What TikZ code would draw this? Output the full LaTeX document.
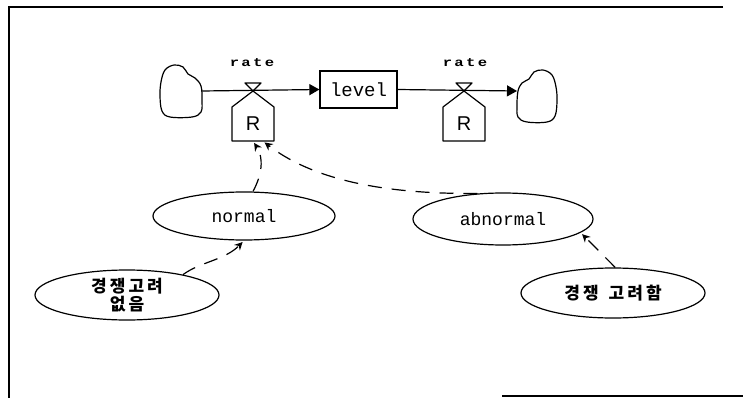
\documentclass[tikz,border=0pt]{standalone}
\usepackage{fontspec}
\usetikzlibrary{arrows.meta,shapes.geometric}
\newfontfamily\monofont{Liberation Mono}
\newfontfamily\ratefont{Liberation Mono}[LetterSpace=15]
\newfontfamily\krfont{Noto Sans CJK KR}[LetterSpace=18]
\newfontfamily\rfont{Liberation Sans}
\begin{document}
\begin{tikzpicture}[x=1pt,y=-1pt,
  outline/.style={line width=1.2pt, line join=round},
  flow/.style={line width=1.2pt, -{Triangle[length=10pt,width=11pt]}},
  dep/.style={line width=1.2pt, dash pattern=on 14pt off 10pt,
              -{Stealth[length=8pt,width=8pt]}, shorten >=2pt},
  oval/.style={ellipse, draw, line width=1.2pt, inner sep=0pt},
  levelbox/.style={rectangle, draw, line width=1.2pt, minimum width=77pt,
                   minimum height=37pt, font=\monofont\fontsize{19}{20}\selectfont},
  ratelabel/.style={inner sep=0pt, font=\ratefont\bfseries\fontsize{12}{12}\selectfont},
  rlabel/.style={rectangle, inner sep=0pt, minimum width=42pt, minimum height=34pt,
                 font=\rfont\fontsize{20}{20}\selectfont},
  mono/.style={font=\monofont\fontsize{18}{19}\selectfont},
  kr/.style={font=\krfont\bfseries\fontsize{17}{18}\selectfont, align=center}
]
\useasboundingbox (0,0) rectangle (743,398);

% outer frame
\draw[line width=1.5pt] (723,7) -- (9,7) -- (9,398);
\draw[line width=1.5pt] (502,396) -- (743,396);

% source and sink clouds
\draw[outline] plot[smooth cycle, tension=0.6] coordinates {
  (161,82) (165,70) (174,65) (183,67) (188,74) (195,78) (201,86) (202,100)
  (201,112) (192,117) (170,117) (162,111) (160,96)};
\draw[outline] plot[smooth cycle, tension=0.6] coordinates {
  (556,87) (552,75) (543,70) (534,72) (529,79) (522,83) (518,91) (517,105)
  (518,117) (527,122) (547,122) (555,116) (557,101)};
\coordinate (source) at (202,91);
\coordinate (sink) at (517,91);

% stock
\node[levelbox] (level) at (358.5,89.5) {level};

% inflow valve and its rate converter
\coordinate (valveL) at (253,91);
\draw[outline] (245,83) -- (261,83) -- (valveL) -- cycle;
\draw[outline] (valveL) -- (274,107) -- (274,141) -- (232,141) -- (232,107) -- cycle;
\node[rlabel] (Rl) at (253,124) {R};
\node[ratelabel] (rateL) at (252,63) {\scalebox{1.3}[1]{rate}};

% outflow valve and its rate converter
\coordinate (valveR) at (464,91);
\draw[outline] (456,83) -- (472,83) -- (valveR) -- cycle;
\draw[outline] (valveR) -- (485,107) -- (485,141) -- (443,141) -- (443,107) -- cycle;
\node[rlabel] (Rr) at (464,124) {R};
\node[ratelabel] (rateR) at (465,63) {\scalebox{1.3}[1]{rate}};

% flows
\draw[flow] (source) -- (level.west);
\draw[flow] (level.east) -- (sink);

% auxiliary variables
\node[oval, mono, minimum width=182pt, minimum height=48pt] (normal) at (244,216) {normal};
\node[oval, mono, minimum width=180pt, minimum height=52pt] (abnormal) at (503,219) {abnormal};
\node[oval, kr, minimum width=184pt, minimum height=50pt] (nocomp) at (127,295) {경쟁고려\\없음};
\node[oval, kr, minimum width=184pt, minimum height=50pt] (comp) at (613,293) {경쟁\hspace{10pt}고려함};

% information links
\draw[dep] (nocomp.20) .. controls (200,262) and (225,260) .. (normal.south);
\draw[dep] (normal.70) .. controls (262,175) and (264,158) .. (Rl.south);
\draw[dep] (abnormal.135) .. controls (400,194) and (320,185) .. (Rl.300);
\draw[dep] (comp.85) -- (abnormal.350);
\end{tikzpicture}
\end{document}
